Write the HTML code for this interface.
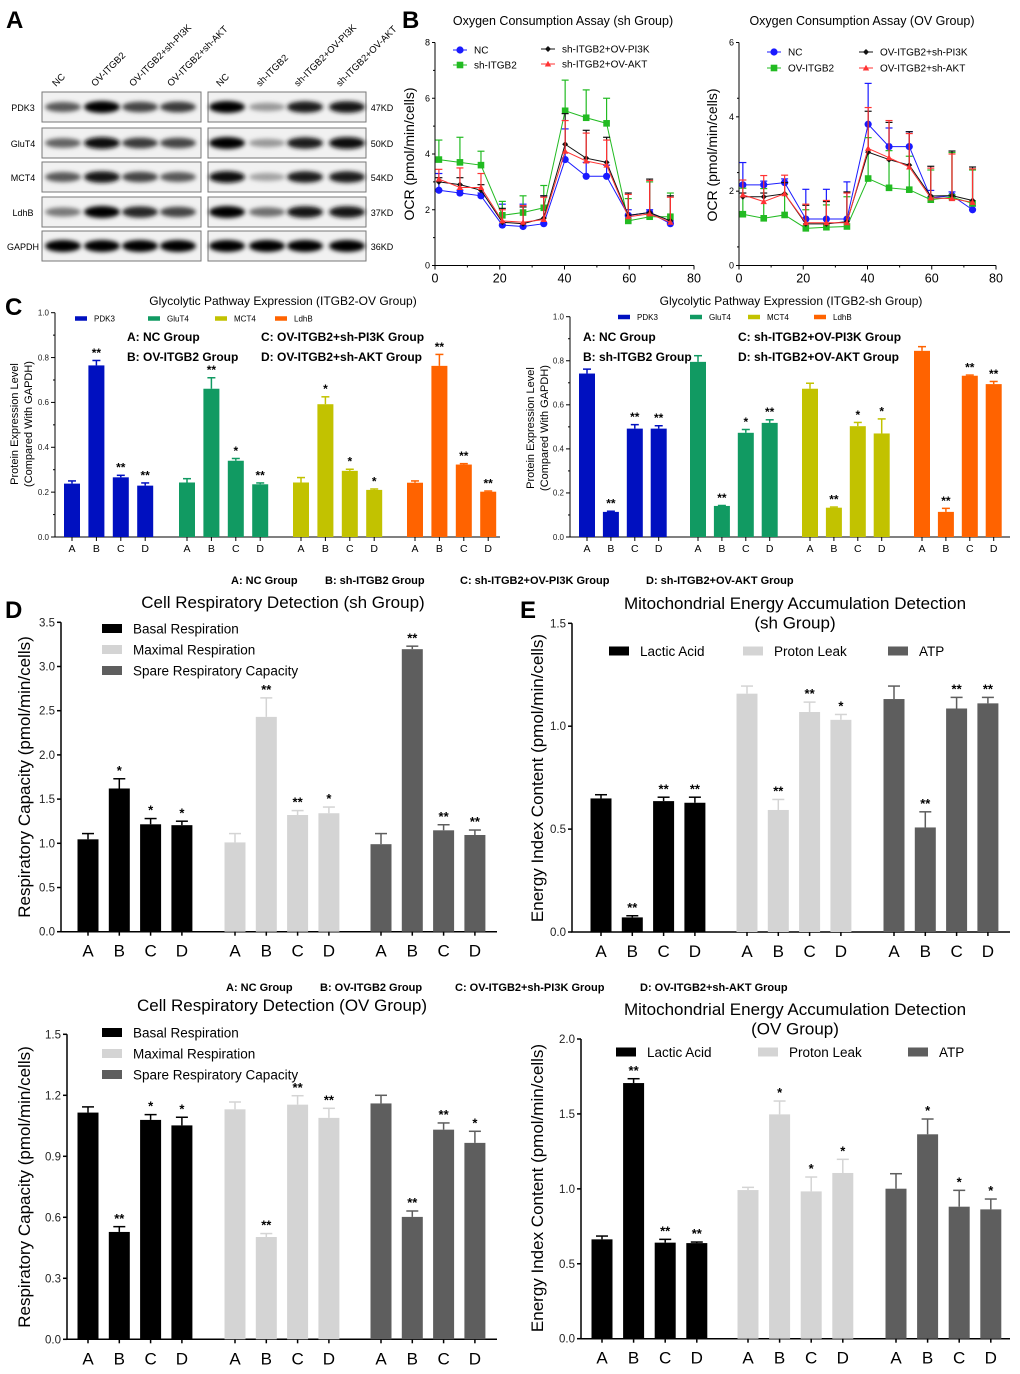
<!DOCTYPE html>
<html><head><meta charset="utf-8">
<style>
html,body{margin:0;padding:0;background:#fff;}
svg{display:block;font-family:"Liberation Sans",Arial,sans-serif;}
</style></head>
<body>
<svg id="fig" width="1020" height="1374" viewBox="0 0 1020 1374" xmlns="http://www.w3.org/2000/svg">
<defs><filter id="blur" x="-50%" y="-100%" width="200%" height="300%"><feGaussianBlur stdDeviation="2"/></filter></defs>
</svg>
<script>
// ---------- DATA ----------
const blotProteins = ["PDK3","GluT4","MCT4","LdhB","GAPDH"];
const blotKD = ["47KD","50KD","54KD","37KD","36KD"];
const blotLanesLeft = ["NC","OV-ITGB2","OV-ITGB2+sh-PI3K","OV-ITGB2+sh-AKT"];
const blotLanesRight = ["NC","sh-ITGB2","sh-ITGB2+OV-PI3K","sh-ITGB2+OV-AKT"];
const blotLeft = [[0.6,1,0.7,0.75],[0.55,0.95,0.75,0.7],[0.6,0.92,0.7,0.6],[0.45,1,0.85,0.7],[1,1,1,1]];
const blotRight = [[1,0.3,0.9,0.92],[1,0.3,0.9,0.97],[0.95,0.25,0.9,0.9],[1,0.5,0.92,0.92],[1,1,1,1]];

const ocrTimes = [1.2,7.7,14.2,20.8,27.2,33.6,40.2,46.7,53,59.7,66.3,72.7];
const shNames = ["NC","sh-ITGB2","sh-ITGB2+OV-PI3K","sh-ITGB2+OV-AKT"];
const shNC = [2.7,2.6,2.5,1.45,1.4,1.5,3.8,3.2,3.2,1.8,1.9,1.5];
const shKD = [3.8,3.7,3.6,1.8,1.9,2.07,5.55,5.3,5.1,1.6,1.75,1.75];
const shPI3K = [3.0,2.9,2.7,1.55,1.5,1.7,4.35,3.85,3.7,1.8,1.9,1.6];
const shAKT = [3.1,2.8,2.8,1.6,1.55,1.65,4.1,3.75,3.6,1.75,1.85,1.55];
const shNCerr = [0.6,0.1,0.1,0.75,0.8,1.0,1.1,0.5,0.4,0.2,0.1,0.1];
const shKDerr = [0.7,0.9,0.5,0.5,0.6,0.8,1.1,1.0,0.9,0.8,1.25,0.85];
const shPI3Kerr = [0.15,0.25,0.2,0.5,0.6,0.8,1.1,1.0,0.9,0.8,1.2,0.9];
const shAKTerr = [0.35,0.7,0.5,0.4,0.6,0.8,1.1,1.0,0.9,0.8,1.2,0.9];
const ovNames = ["NC","OV-ITGB2","OV-ITGB2+sh-PI3K","OV-ITGB2+sh-AKT"];
const ovNC = [2.17,2.17,2.23,1.25,1.25,1.25,3.8,3.2,3.2,1.82,1.88,1.5];
const ovOE = [1.38,1.27,1.36,1.0,1.03,1.05,2.34,2.09,2.04,1.77,1.84,1.67];
const ovPI3K = [1.85,1.85,1.93,1.12,1.12,1.18,3.05,2.85,2.7,1.87,1.88,1.75];
const ovAKT = [1.9,1.72,1.93,1.15,1.15,1.15,3.15,2.9,2.65,1.82,1.8,1.7];
const ovNCerr = [0.6,0.1,0.1,0.8,0.8,1.0,1.1,0.5,0.4,0.2,0.1,0.1];
const ovOEerr = [0.7,0.8,0.55,0.5,0.6,0.8,1.1,1.0,0.9,0.8,1.2,0.9];
const ovPI3Kerr = [0.1,0.1,0.3,0.5,0.6,0.8,1.1,1.0,0.9,0.8,1.2,0.9];
const ovAKTerr = [0.4,0.7,0.5,0.5,0.6,0.8,1.1,1.0,0.9,0.8,1.2,0.9];
const ocrXTicks = [0,20,40,60,80];
const ocrShYTicks = [0,2,4,6,8];
const ocrOvYTicks = [0,2,4,6];

const barCats = ["A","B","C","D"];
const cProteins = ["PDK3","GluT4","MCT4","LdhB"];
const cYTicks = ["0.0","0.2","0.4","0.6","0.8","1.0"];
const cOvVals = [[0.238,0.765,0.266,0.229],[0.243,0.661,0.34,0.235],[0.243,0.592,0.295,0.21],[0.242,0.763,0.323,0.202]];
const cOvTops = [[0.25,0.787,0.275,0.241],[0.26,0.71,0.35,0.241],[0.265,0.625,0.302,0.214],[0.25,0.814,0.327,0.205]];
const cOvStars = [["","**","**","**"],["","**","*","**"],["","*","*","*"],["","**","**","**"]];
const cShVals = [[0.742,0.114,0.492,0.492],[0.795,0.141,0.473,0.518],[0.673,0.133,0.503,0.47],[0.845,0.114,0.732,0.694]];
const cShTops = [[0.762,0.117,0.51,0.505],[0.823,0.143,0.488,0.532],[0.698,0.136,0.52,0.536],[0.864,0.13,0.735,0.706]];
const cShStars = [["","**","**","**"],["","**","*","**"],["","**","*","*"],["","**","**","**"]];

const respSeries = ["Basal Respiration","Maximal Respiration","Spare Respiratory Capacity"];
const energySeries = ["Lactic Acid","Proton Leak","ATP"];
const dYTicks = ["0.0","0.5","1.0","1.5","2.0","2.5","3.0","3.5"];
const dVals = [[1.045,1.62,1.215,1.205],[1.01,2.43,1.32,1.34],[0.99,3.196,1.147,1.094]];
const dTops = [[1.11,1.73,1.28,1.25],[1.11,2.645,1.37,1.41],[1.11,3.23,1.21,1.15]];
const dStars = [["","*","*","*"],["","**","**","*"],["","**","**","**"]];
const eYTicks = ["0.0","0.5","1.0","1.5"];
const eVals = [[0.649,0.071,0.636,0.628],[1.158,0.593,1.069,1.031],[1.132,0.508,1.086,1.111]];
const eTops = [[0.667,0.079,0.655,0.655],[1.195,0.644,1.117,1.057],[1.195,0.584,1.14,1.14]];
const eStars = [["","**","**","**"],["","**","**","*"],["","**","**","**"]];
const fYTicks = ["0.0","0.3","0.6","0.9","1.2","1.5"];
const fVals = [[1.115,0.528,1.079,1.052],[1.131,0.503,1.154,1.089],[1.16,0.602,1.031,0.966]];
const fTops = [[1.143,0.554,1.105,1.092],[1.167,0.52,1.198,1.136],[1.2,0.631,1.064,1.023]];
const fStars = [["","**","*","*"],["","**","**","**"],["","**","**","*"]];
const gYTicks = ["0.0","0.5","1.0","1.5","2.0"];
const gVals = [[0.663,1.706,0.641,0.638],[0.992,1.497,0.983,1.106],[1.001,1.364,0.881,0.863]];
const gTops = [[0.685,1.735,0.663,0.645],[1.01,1.586,1.079,1.197],[1.101,1.466,0.99,0.932]];
const gStars = [["","**","**","**"],["","*","*","*"],["","*","*","*"]];

// ---------- DRAWING ----------
const NS = "http://www.w3.org/2000/svg";
const svg = document.getElementById("fig");
function mk(tag, attrs, parent){
  const el = document.createElementNS(NS, tag);
  for (const k in attrs) el.setAttribute(k, attrs[k]);
  (parent||svg).appendChild(el);
  return el;
}
function txt(s, x, y, size, opts, parent){
  opts = opts || {};
  const el = mk("text", {x:x, y:y, "font-size":size, fill:opts.fill||"#000", "text-anchor":opts.anchor||"start", "font-weight":opts.bold?"bold":"normal"}, parent);
  if (opts.rot) el.setAttribute("transform", "rotate("+opts.rot+" "+x+" "+y+")");
  el.textContent = s;
  return el;
}
function grp(name){
  const g = mk("g", {});
  
  
  return g;
}

[["A",6,28],["B",402,28],["C",5,315],["D",5,618],["E",520,618]].forEach(function(p){
  const t = txt(p[0], p[1], p[2], 24, {bold:true});
  
  
});

// ---- Panel A ----
(function(){
  const g = grp("western-blot");
  const rowTops = [92,128,162,197,231];
  const rowH = 30;
  const boxes = [[42,201,blotLeft,blotLanesLeft,[63,102,140,178]],[208,366,blotRight,blotLanesRight,[227,267,305,347]]];
  boxes.forEach(function(b){
    b[4].forEach(function(cx, li){
      const t = txt(b[3][li], cx-7, 87, 9.5, {rot:-45}, g);
      
      
    });
    rowTops.forEach(function(ty, ri){
      const r = mk("rect", {x:b[0], y:ty, width:b[1]-b[0], height:rowH, fill:"#f1f1f1", stroke:"#777", "stroke-width":1}, g);
      
      
      b[4].forEach(function(cx, li){
        const v = b[2][ri][li];
        const shade = Math.round(215 - 210*v);
        const e = mk("ellipse", {cx:cx, cy:ty+rowH/2, rx:18, ry:3.5+2.5*v, fill:"rgb("+shade+","+shade+","+shade+")", filter:"url(#blur)"}, g);
        
        
      });
    });
  });
  rowTops.forEach(function(ty, ri){
    const t = txt(blotProteins[ri], 23, ty+19, 9, {anchor:"middle"}, g);
    
    
    const k = txt(blotKD[ri], 382, ty+19, 9, {anchor:"middle"}, g);
    
    
  });
})();

// ---- Panel B ----
function marker(g, kind, x, y, color){
  let el;
  if (kind==="circle") el = mk("circle", {cx:x, cy:y, r:3.6, fill:color}, g);
  else if (kind==="square") el = mk("rect", {x:x-3.3, y:y-3.3, width:6.6, height:6.6, fill:color}, g);
  else if (kind==="diamond") el = mk("polygon", {points:(x)+","+(y-3)+" "+(x+3)+","+y+" "+x+","+(y+3)+" "+(x-3)+","+y, fill:color}, g);
  else el = mk("polygon", {points:x+","+(y-3.2)+" "+(x+3.2)+","+(y+2.5)+" "+(x-3.2)+","+(y+2.5), fill:color}, g);
  
  
}
function lineChart(cfg){
  const g = grp(cfg.name);
  const sx = function(v){return cfg.x0 + (v/80)*(cfg.x1-cfg.x0);};
  const sy = function(v){return cfg.y0 - (v/cfg.ymax)*(cfg.y0-cfg.y1);};
  const ax = mk("path", {d:"M"+cfg.x0+","+cfg.y1+" V"+cfg.y0+" H"+cfg.x1, stroke:"#000", fill:"none", "stroke-width":1}, g);
  
  
  cfg.yticks.forEach(function(v){
    mk("line", {x1:cfg.x0-3, x2:cfg.x0, y1:sy(v), y2:sy(v), stroke:"#000"}, g);
    const t = txt(String(v), cfg.x0-5, sy(v)+3, 9, {anchor:"end"}, g);
    
    
    if (v < cfg.ymax) mk("line", {x1:cfg.x0-2, x2:cfg.x0, y1:sy(v+cfg.ystep/2), y2:sy(v+cfg.ystep/2), stroke:"#000"}, g);
  });
  ocrXTicks.forEach(function(v){
    mk("line", {x1:sx(v), x2:sx(v), y1:cfg.y0, y2:cfg.y0+4, stroke:"#000"}, g);
    if (v<80) mk("line", {x1:sx(v+10), x2:sx(v+10), y1:cfg.y0, y2:cfg.y0+2, stroke:"#000"}, g);
    const t = txt(String(v), sx(v), cfg.y0+17, 12.5, {anchor:"middle"}, g);
    
    
  });
  const yt = txt("OCR (pmol/min/cells)", cfg.ytx, cfg.yty, 14, {anchor:"middle", rot:-90}, g);
  
  
  const tt = txt(cfg.title, cfg.tx, 25, 12.5, {anchor:"middle"}, g);
  
  
  const kinds = ["circle","square","diamond","triangle"];
  const colors = ["#1a1aff","#22bb22","#111","#ff3333"];
  cfg.series.forEach(function(s, si){
    const sg = mk("g", {}, g);
    
    
    s.forEach(function(v, i){
      const x = sx(ocrTimes[i]), top = sy(v+cfg.errs[si][i]);
      mk("line", {x1:x, x2:x, y1:sy(v), y2:top, stroke:colors[si], "stroke-width":1.2}, sg);
      mk("line", {x1:x-3.5, x2:x+3.5, y1:top, y2:top, stroke:colors[si], "stroke-width":1.2}, sg);
    });
    const d = s.map(function(v,i){return (i?"L":"M")+sx(ocrTimes[i])+","+sy(v);}).join(" ");
    const p = mk("path", {d:d, fill:"none", stroke:colors[si], "stroke-width":1}, sg);
    
    
    s.forEach(function(v,i){ marker(sg, kinds[si], sx(ocrTimes[i]), sy(v), colors[si]); });
    const lx = cfg.leg[si][0], ly = cfg.leg[si][1];
    mk("line", {x1:lx-7, x2:lx+7, y1:ly, y2:ly, stroke:colors[si]}, g);
    marker(g, kinds[si], lx, ly, colors[si]);
    const lt = txt(cfg.names[si], lx+14, ly+3.5, 10, {}, g);
    
    
  });
}
lineChart({name:"ocr-sh-chart", x0:435, x1:694, y0:265.5, y1:42.5, ymax:8, ystep:2, yticks:ocrShYTicks,
  series:[shNC,shKD,shPI3K,shAKT], errs:[shNCerr,shKDerr,shPI3Kerr,shAKTerr], names:shNames,
  title:"Oxygen Consumption Assay (sh Group)", tx:563, ytx:414, yty:154,
  leg:[[460,50],[460,65],[548,49],[548,64]]});
lineChart({name:"ocr-ov-chart", x0:739, x1:996, y0:265.5, y1:42.5, ymax:6, ystep:1, yticks:ocrOvYTicks,
  series:[ovNC,ovOE,ovPI3K,ovAKT], errs:[ovNCerr,ovOEerr,ovPI3Kerr,ovAKTerr], names:ovNames,
  title:"Oxygen Consumption Assay (OV Group)", tx:862, ytx:717, yty:155,
  leg:[[774,52],[774,68],[866,52],[866,68]]});

// ---- Bar charts ----
function barChart(cfg){
  const g = grp(cfg.name);
  const ymax = parseFloat(cfg.yticks[cfg.yticks.length-1]);
  const sy = function(v){return cfg.y0 - (v/ymax)*(cfg.y0-cfg.y1);};
  const ax = mk("path", {d:"M"+cfg.x0+","+cfg.y1+" V"+cfg.y0+" H"+cfg.x1, stroke:"#000", fill:"none", "stroke-width":cfg.axw}, g);
  
  
  cfg.yticks.forEach(function(lbl, i){
    const v = parseFloat(lbl);
    mk("line", {x1:cfg.x0-4, x2:cfg.x0, y1:sy(v), y2:sy(v), stroke:"#000", "stroke-width":cfg.axw}, g);
    if (cfg.minor && i < cfg.yticks.length-1) {
      const m = (v + parseFloat(cfg.yticks[i+1]))/2;
      mk("line", {x1:cfg.x0-2, x2:cfg.x0, y1:sy(m), y2:sy(m), stroke:"#000"}, g);
    }
    const t = txt(lbl, cfg.x0-6, sy(v)+cfg.tickSize*0.35, cfg.tickSize, {anchor:"end", fill:"#222"}, g);
    
    
  });
  cfg.vals.forEach(function(series, si){
    const sg = mk("g", {}, g);
    
    
    series.forEach(function(v, ci){
      const cx = cfg.groupX[si] + ci*cfg.step;
      const top = sy(cfg.tops[si][ci]);
      mk("line", {x1:cx, x2:cx, y1:sy(v), y2:top, stroke:cfg.errColors[si], "stroke-width":1.5}, sg);
      mk("line", {x1:cx-cfg.cap, x2:cx+cfg.cap, y1:top, y2:top, stroke:cfg.errColors[si], "stroke-width":1.5}, sg);
      const b = mk("rect", {x:cx-cfg.bw/2, y:sy(v), width:cfg.bw, height:cfg.y0-sy(v), fill:cfg.colors[si]}, sg);
      
      
      if (cfg.stars[si][ci]) {
        const st = txt(cfg.stars[si][ci], cx, top - cfg.starSize*0.3, cfg.starSize, {anchor:"middle", bold:true}, sg);
        
        
      }
      mk("line", {x1:cx, x2:cx, y1:cfg.y0, y2:cfg.y0+4, stroke:"#000", "stroke-width":cfg.axw}, g);
      const xl = txt(barCats[ci], cx, cfg.y0+cfg.xlOff, cfg.xlSize, {anchor:"middle"}, g);
      
      
    });
  });
  cfg.titleLines.forEach(function(l, i){
    const t = txt(l, cfg.tx, cfg.ty + i*cfg.titleLH, cfg.titleSize, {anchor:"middle"}, g);
    
    
  });
  cfg.ytitle.forEach(function(l, i){
    const t = txt(l, cfg.ytx + i*cfg.ytLH, cfg.yty, cfg.ytSize, {anchor:"middle", rot:-90}, g);
    
    
  });
  cfg.legend.forEach(function(p, si){
    const r = mk("rect", {x:p[0], y:p[1]-cfg.legH/2, width:cfg.legW, height:cfg.legH, fill:cfg.colors[si]}, g);
    
    
    const t = txt(cfg.seriesNames[si], p[0]+cfg.legW+cfg.legGap, p[1]+cfg.legSize*0.36, cfg.legSize, {}, g);
    
    
  });
  (cfg.notes||[]).forEach(function(n){
    const t = txt(n[0], n[1], n[2], cfg.noteSize, {bold:true}, g);
    
    
  });
}
const cColors = ["#0010c0","#119a62","#c2c200","#ff6300"];
const grays = ["#000000","#d4d4d4","#5e5e5e"];

barChart({name:"glycolytic-ov-chart", x0:55, x1:500, y0:537, y1:312.7, yticks:cYTicks, minor:true, axw:1,
  tickSize:8, vals:cOvVals, tops:cOvTops, stars:cOvStars, colors:cColors, errColors:cColors, seriesNames:cProteins,
  groupX:[72,187,301,415], step:24.4, bw:16, cap:4, starSize:12, xlOff:15, xlSize:10.5,
  titleLines:["Glycolytic Pathway Expression (ITGB2-OV Group)"], tx:283, ty:305, titleLH:0, titleSize:12,
  ytitle:["Protein Expression Level","(Compared With GAPDH)"], ytx:18, yty:424, ytLH:14, ytSize:11,
  legend:[[75,318.5],[148,318.5],[215,318.5],[275,318.5]], legW:12, legH:4.5, legGap:7, legSize:8,
  notes:[["A: NC Group",127,341],["B: OV-ITGB2 Group",127,361],["C: OV-ITGB2+sh-PI3K Group",261,341],["D: OV-ITGB2+sh-AKT Group",261,361]], noteSize:12});

barChart({name:"glycolytic-sh-chart", x0:570, x1:1010, y0:537, y1:316.7, yticks:cYTicks, minor:true, axw:1,
  tickSize:8, vals:cShVals, tops:cShTops, stars:cShStars, colors:cColors, errColors:cColors, seriesNames:cProteins,
  groupX:[587,698,810,922], step:23.9, bw:16, cap:4, starSize:12, xlOff:15, xlSize:10.5,
  titleLines:["Glycolytic Pathway Expression (ITGB2-sh Group)"], tx:791, ty:305, titleLH:0, titleSize:12,
  ytitle:["Protein Expression Level","(Compared With GAPDH)"], ytx:534, yty:428, ytLH:14, ytSize:11,
  legend:[[618,317],[690,317],[748,317],[814,317]], legW:12, legH:4.5, legGap:7, legSize:8,
  notes:[["A: NC Group",583,341],["B: sh-ITGB2 Group",583,361],["C: sh-ITGB2+OV-PI3K Group",738,341],["D: sh-ITGB2+OV-AKT Group",738,361]], noteSize:12});

[["A: NC Group",231,584],["B: sh-ITGB2 Group",325,584],["C: sh-ITGB2+OV-PI3K Group",460,584],["D: sh-ITGB2+OV-AKT Group",646,584],
 ["A: NC Group",226,991],["B: OV-ITGB2 Group",320,991],["C: OV-ITGB2+sh-PI3K Group",455,991],["D: OV-ITGB2+sh-AKT Group",640,991]].forEach(function(n){
  const t = txt(n[0], n[1], n[2], 11, {bold:true});
  
  
});

barChart({name:"respiratory-sh-chart", x0:61, x1:497, y0:931.7, y1:622.3, yticks:dYTicks, minor:false, axw:1.5,
  tickSize:11.5, vals:dVals, tops:dTops, stars:dStars, colors:grays, errColors:grays, seriesNames:respSeries,
  groupX:[88,235,381], step:31.3, bw:21, cap:6, starSize:13, xlOff:25, xlSize:17,
  titleLines:["Cell Respiratory Detection (sh Group)"], tx:283, ty:608, titleLH:0, titleSize:17,
  ytitle:["Respiratory Capacity (pmol/min/cells)"], ytx:30, yty:777, ytLH:0, ytSize:17,
  legend:[[102,628.5],[102,649.5],[102,670.5]], legW:20, legH:9, legGap:11, legSize:13.5});

barChart({name:"energy-sh-chart", x0:572, x1:1010, y0:932, y1:623.3, yticks:eYTicks, minor:false, axw:1.5,
  tickSize:11.5, vals:eVals, tops:eTops, stars:eStars, colors:grays, errColors:grays, seriesNames:energySeries,
  groupX:[601,747,894], step:31.3, bw:21, cap:6, starSize:13, xlOff:25, xlSize:17,
  titleLines:["Mitochondrial Energy Accumulation Detection","(sh Group)"], tx:795, ty:609, titleLH:19.5, titleSize:17,
  ytitle:["Energy Index Content (pmol/min/cells)"], ytx:543, yty:778, ytLH:0, ytSize:17,
  legend:[[609,651],[743,651],[888,651]], legW:20, legH:9, legGap:11, legSize:13.5});

barChart({name:"respiratory-ov-chart", x0:67, x1:497, y0:1339.3, y1:1034.3, yticks:fYTicks, minor:false, axw:1.5,
  tickSize:11.5, vals:fVals, tops:fTops, stars:fStars, colors:grays, errColors:grays, seriesNames:respSeries,
  groupX:[88,235,381], step:31.3, bw:21, cap:6, starSize:13, xlOff:25, xlSize:17,
  titleLines:["Cell Respiratory Detection (OV Group)"], tx:282, ty:1011, titleLH:0, titleSize:17,
  ytitle:["Respiratory Capacity (pmol/min/cells)"], ytx:30, yty:1187, ytLH:0, ytSize:17,
  legend:[[102,1032.5],[102,1053.5],[102,1074.5]], legW:20, legH:9, legGap:11, legSize:13.5});

barChart({name:"energy-ov-chart", x0:581, x1:1010, y0:1338.7, y1:1039, yticks:gYTicks, minor:false, axw:1.5,
  tickSize:11.5, vals:gVals, tops:gTops, stars:gStars, colors:grays, errColors:grays, seriesNames:energySeries,
  groupX:[602,748,896], step:31.6, bw:21, cap:6, starSize:13, xlOff:25, xlSize:17,
  titleLines:["Mitochondrial Energy Accumulation Detection","(OV Group)"], tx:795, ty:1015, titleLH:19.5, titleSize:17,
  ytitle:["Energy Index Content (pmol/min/cells)"], ytx:543, yty:1188, ytLH:0, ytSize:17,
  legend:[[616,1052],[758,1052],[908,1052]], legW:20, legH:9, legGap:11, legSize:13.5});
</script>
</body></html>
